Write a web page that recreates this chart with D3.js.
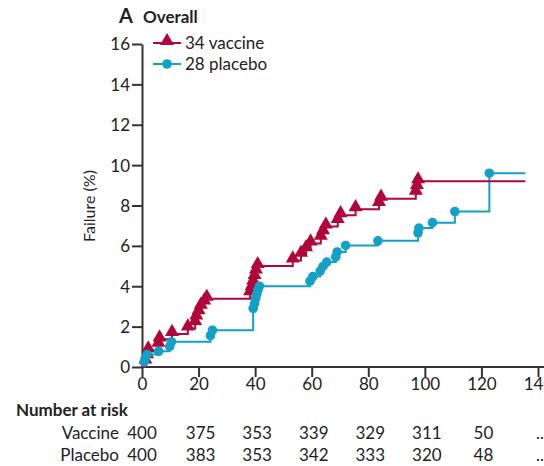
<!DOCTYPE html>
<html><head><meta charset="utf-8">
<script src="https://cdn.jsdelivr.net/npm/d3@7"></script>
<style>
html,body{margin:0;padding:0;background:#fff;}
svg{display:block;}
text{font-family:Lato,"Open Sans",sans-serif;fill:#222;}
</style></head>
<body>
<svg id="c" width="544" height="466"></svg>
<script>
// Data
const xTicks = [0,20,40,60,80,100,120,140];
const yTicks = [0,2,4,6,8,10,12,14,16];
const vaccineTimes   = [0,1.2,1.8,2.2,5.8,6.2,10.6,16.2,18.8,19.2,20.0,20.8,22.0,22.9,38.2,38.8,39.3,39.8,40.3,40.9,53.3,56.2,58.0,59.6,63.2,64.0,65.0,69.2,70.2,75.5,83.8,84.5,96.8,97.2,97.6];
const vaccineFailure = [0,0.27,0.54,0.82,1.10,1.37,1.64,1.91,2.18,2.45,2.72,2.99,3.20,3.38,3.65,3.92,4.19,4.46,4.73,5.00,5.28,5.56,5.84,6.12,6.40,6.68,6.96,7.24,7.52,7.82,8.08,8.34,8.64,8.92,9.20];
const placeboTimes   = [0,0.8,1.3,1.8,5.9,9.8,10.4,24.2,24.9,39.3,39.8,40.2,40.6,41.0,41.5,59.4,60.4,63.0,64.0,65.3,68.5,69.0,72.0,83.4,97.6,97.9,102.7,110.6,122.8];
const placeboFailure = [0,0.25,0.45,0.62,0.78,1.02,1.25,1.55,1.82,2.90,3.15,3.40,3.62,3.82,4.00,4.25,4.48,4.75,4.98,5.20,5.45,5.70,6.02,6.25,6.65,6.88,7.15,7.70,9.60];
const endTime = 135.5;
const riskGroups = ["Vaccine","Placebo"];
const vaccineRisk = ["400","375","353","339","329","311","50",".."];
const placeboRisk = ["400","383","353","342","333","320","48",".."];
const seriesLabels = ["34 vaccine","28 placebo"];
const colors = {vaccine:"#b1063a", placebo:"#12a0c7"};

const svg = d3.select("#c");
const x = d3.scaleLinear().domain([0,140]).range([142,538]);
const y = d3.scaleLinear().domain([0,16]).range([367,44]);
const axisCol = "#333";
const FS = 17;

// Y axis
const ya = svg.append("g").attr("transform","translate(142,0)")
  .call(d3.axisLeft(y).tickValues(yTicks).tickSize(10).tickPadding(2).tickSizeOuter(0));
ya.select(".domain").attr("stroke",axisCol).attr("stroke-width",2);
ya.selectAll(".tick line").attr("stroke",axisCol).attr("stroke-width",2);
ya.selectAll(".tick text").attr("font-size",FS).attr("fill","#222").attr("font-family",null).attr("dy","0.35em");

// X axis
const xa = svg.append("g").attr("transform","translate(0,367)")
  .call(d3.axisBottom(x).tickValues(xTicks).tickSize(10).tickPadding(1).tickSizeOuter(0));
xa.select(".domain").attr("stroke",axisCol).attr("stroke-width",2).attr("d","M142,0H544");
xa.selectAll(".tick line").attr("stroke",axisCol).attr("stroke-width",2);
xa.selectAll(".tick text").attr("font-size",FS).attr("fill","#222").attr("font-family",null);

// Y label
svg.append("text").attr("transform","translate(95,206) rotate(-90)")
  .attr("text-anchor","middle").attr("font-size",16).text("Failure (%)");

// Title
svg.append("text").attr("x",119).attr("y",23).attr("font-size",20).attr("font-weight","bold").text("A");
svg.append("text").attr("x",143).attr("y",23).attr("font-size",17).attr("font-weight","bold").text("Overall");

// Series
function mkSeries(times, vals){
  const pts = times.map((t,i)=>({t:t,v:vals[i]}));
  const line = pts.concat([{t:endTime, v:vals[vals.length-1]}]);
  return {pts:pts.slice(1), line:line};
}
const vac = mkSeries(vaccineTimes, vaccineFailure);
const pla = mkSeries(placeboTimes, placeboFailure);
const lineGen = d3.line().x(d=>x(d.t)).y(d=>y(d.v)).curve(d3.curveStepAfter);

svg.append("path").datum(pla.line).attr("d",lineGen).attr("fill","none")
  .attr("stroke",colors.placebo).attr("stroke-width",2);
svg.append("path").datum(vac.line).attr("d",lineGen).attr("fill","none")
  .attr("stroke",colors.vaccine).attr("stroke-width",2);

const tri = d3.symbol().type(d3.symbolTriangle).size(85);
svg.append("g").selectAll("path").data(vac.pts).join("path")
  .attr("d",tri).attr("transform",d=>`translate(${x(d.t)},${y(d.v)-2})`)
  .attr("fill",colors.vaccine);
svg.append("g").selectAll("circle").data(pla.pts).join("circle")
  .attr("cx",d=>x(d.t)).attr("cy",d=>y(d.v)).attr("r",4.8)
  .attr("fill",colors.placebo);

// Legend
const lg = [{c:colors.vaccine, s:"tri", y:43},{c:colors.placebo, s:"circ", y:64}];
lg.forEach((d,i)=>{
  svg.append("line").attr("x1",153).attr("x2",181).attr("y1",d.y).attr("y2",d.y)
    .attr("stroke",d.c).attr("stroke-width",2);
  if(d.s==="tri") svg.append("path").attr("d",tri).attr("transform",`translate(167,${d.y-2})`).attr("fill",d.c);
  else svg.append("circle").attr("cx",167).attr("cy",d.y).attr("r",4.8).attr("fill",d.c);
  svg.append("text").attr("x",185).attr("y",d.y+6).attr("font-size",FS).text(seriesLabels[i]);
});

// Risk table
svg.append("text").attr("x",16).attr("y",416).attr("font-size",FS).attr("font-weight","bold").text("Number at risk");
[vaccineRisk, placeboRisk].forEach((row,r)=>{
  const yy = 439 + r*22;
  svg.append("text").attr("x",119).attr("y",yy).attr("text-anchor","end").attr("font-size",FS).text(riskGroups[r]);
  svg.append("g").selectAll("text").data(row).join("text")
    .attr("x",(d,i)=>x(xTicks[i])+ (i===0?0:2)).attr("y",yy).attr("text-anchor","middle")
    .attr("font-size",FS).text(d=>d);
});
</script>
</body></html>
